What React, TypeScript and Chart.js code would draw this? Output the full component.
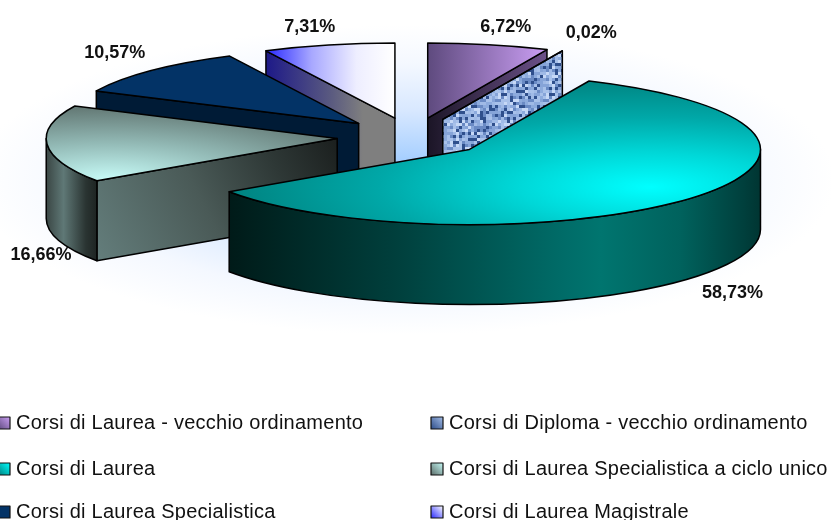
import React, { useEffect, useRef } from "react";
import { Chart, registerables } from "chart.js";

Chart.register(...registerables);

const categories = [
  "Corsi di Laurea - vecchio ordinamento",
  "Corsi di Diploma - vecchio ordinamento",
  "Corsi di Laurea",
  "Corsi di Laurea Specialistica a ciclo unico",
  "Corsi di Laurea Specialistica",
  "Corsi di Laurea Magistrale",
];
const shares = [6.72, 0.02, 58.73, 16.66, 10.57, 7.31];

// back-to-front order of the slices
const paintOrder = [0, 1, 5, 4, 3, 2];

const RADIUS = 291;
const SQUASH = 0.258;
const EXPLODE = 75;
const DEPTH = 80;
const LINE = 1.5;
const FONT = '"Liberation Sans", Arial, sans-serif';

type Stops = [number, string][];
const fillStops = (g: CanvasGradient, stops: Stops) => {
  stops.forEach(([o, c]) => g.addColorStop(o, c));
  return g;
};

function weave(ctx: CanvasRenderingContext2D) {
  const cell = 3;
  const n = 16;
  const raw = document.createElement("canvas");
  raw.width = raw.height = n * cell;
  const r = raw.getContext("2d")!;
  const tones = ["#2f4f8c", "#6a8ac4", "#8dabdd", "#a8c1ea", "#c6d8f6", "#86a4d8", "#a0bae6"];
  for (let y = 0; y < n; y++) {
    for (let x = 0; x < n; x++) {
      const h = Math.abs(Math.sin(x * 12.9898 + y * 78.233) * 43758.5453) % 1;
      r.fillStyle = tones[Math.floor(h * tones.length)];
      r.fillRect(x * cell, y * cell, cell, cell);
    }
  }
  const tile = document.createElement("canvas");
  tile.width = tile.height = n * cell;
  const t = tile.getContext("2d")!;
  t.filter = "blur(0.7px)";
  t.drawImage(raw, 0, 0);
  t.filter = "none";
  return ctx.createPattern(tile, "repeat")!;
}

// fill of the top face, in the squashed (pie) space; p = {x, y, R, a0, a1}
const faceFills: ((c: CanvasRenderingContext2D, p: any) => any)[] = [
  (c, p) =>
    fillStops(c.createLinearGradient(p.x, 0, p.x + p.R * 0.41, 0), [
      [0, "#5e4a7e"],
      [1, "#cb9ff4"],
    ]),
  () => "#8aa6da",
  (c, p) => {
    const bx = p.x + p.R * 0.62;
    const by = p.y + p.R * 0.5;
    return fillStops(c.createRadialGradient(bx, by, 0, bx, by, p.R * 1.5), [
      [0, "#00ffff"],
      [0.3, "#00d8d8"],
      [0.62, "#00a8a8"],
      [1, "#007f7c"],
    ]);
  },
  (c, p) => {
    const bx = p.x + Math.cos(p.a0) * p.R * 0.95;
    const by = p.y + Math.sin(p.a0) * p.R * 0.95;
    return fillStops(c.createRadialGradient(bx, by, 0, bx, by, p.R * 1.05), [
      [0, "#c6faf6"],
      [0.45, "#93bab6"],
      [1, "#5a6c68"],
    ]);
  },
  () => "#033366",
  (c, p) =>
    fillStops(c.createLinearGradient(p.x - p.R * 0.44, 0, p.x, 0), [
      [0, "#2a2aff"],
      [0.35, "#a8a8ff"],
      [0.7, "#eeeeff"],
      [1, "#ffffff"],
    ]),
];

// fill of the visible walls, in page space; p = {ax, ay, R}
const wallFills: ((c: CanvasRenderingContext2D, p: any) => any)[] = [
  (c, p) =>
    fillStops(c.createLinearGradient(p.ax, 0, p.ax + p.R * 0.41, 0), [
      [0, "#1b1526"],
      [1, "#6c5189"],
    ]),
  (c) => weave(c),
  (c, p) =>
    fillStops(c.createLinearGradient(p.ax - p.R * 0.83, 0, p.ax + p.R, 0), [
      [0, "#001a18"],
      [0.32, "#00403d"],
      [0.63, "#006c68"],
      [0.7, "#00756f"],
      [0.85, "#00625d"],
      [0.97, "#003f3c"],
      [1, "#003532"],
    ]),
  (c, p) =>
    fillStops(
      c.createLinearGradient(p.ax - p.R * 0.83, p.ay + 123, p.ax, p.ay),
      [
        [0, "#647e7c"],
        [0.45, "#4a5a57"],
        [0.75, "#2e3836"],
        [1, "#1b1f1e"],
      ]
    ),
  () => "#001b36",
  (c, p) =>
    fillStops(c.createLinearGradient(p.ax - p.R * 0.44, 0, p.ax, 0), [
      [0, "#1e1a88"],
      [0.5, "#5a5a80"],
      [0.75, "#7f7f7f"],
      [1, "#7f7f7f"],
    ]),
];

// the rim of the grey slice has its own shading
const greyRim = (c: CanvasRenderingContext2D, p: any) =>
  fillStops(c.createLinearGradient(p.ax - p.R, 0, p.ax - p.R * 0.83, 0), [
    [0, "#3a4644"],
    [0.35, "#5f7876"],
    [0.8, "#2a3432"],
    [1, "#1f2624"],
  ]);

// label offset from the slice's rim, in px
const labelShift: [number, number][] = [
  [17, -18],
  [29, -18],
  [40, 15],
  [-6, 31],
  [-37, -18],
  [-19, -18],
];

const swatchStops: Stops[] = [
  [[0, "#5e4a7e"], [1, "#cb9ff4"]],
  [[0, "#2c4c88"], [1, "#a3bce6"]],
  [[0, "#007f7c"], [1, "#00ffff"]],
  [[0, "#5a6c68"], [1, "#c6faf6"]],
  [[0, "#033366"], [1, "#033366"]],
  [[0, "#2a2aff"], [1, "#ffffff"]],
];
const legendOrder = [0, 1, 2, 3, 4, 5];
const legendRows = [423, 469, 512];
const legendCols = [16, 449];

const stroke = (ctx: CanvasRenderingContext2D) => {
  ctx.lineWidth = LINE;
  ctx.lineJoin = "round";
  ctx.strokeStyle = "#000";
  ctx.stroke();
};

const pie3d = {
  id: "pie3d",
  beforeDraw(chart: any) {
    const { ctx, width, height } = chart;
    ctx.save();
    ctx.fillStyle = "#fff";
    ctx.fillRect(0, 0, width, height);
    ctx.translate(405, 180);
    ctx.scale(1, 0.36);
    const g = ctx.createRadialGradient(0, 0, 0, 0, 0, 430);
    fillStops(g, [
      [0, "#90c2ff"],
      [0.18, "#aed3ff"],
      [0.45, "#d8e8ff"],
      [0.75, "#f4f8ff"],
      [1, "#ffffff"],
    ]);
    ctx.fillStyle = g;
    ctx.fillRect(-430, -430, 860, 860);
    ctx.restore();
  },
  beforeDatasetDraw(chart: any, args: any) {
    const { ctx } = chart;
    const arcs = args.meta.data;
    const ry = (R: number) => R * SQUASH;

    paintOrder.forEach((i) => {
      const arc = arcs[i];
      const { x, y, startAngle: a0, endAngle: a1, outerRadius: R } = arc;
      const mid = (a0 + a1) / 2;
      const ax = x + Math.cos(mid) * EXPLODE;
      const ay = y + Math.sin(mid) * EXPLODE * SQUASH;
      const rim = (a: number) => [ax + Math.cos(a) * R, ay + Math.sin(a) * ry(R)];

      const radialWall = (a: number) => {
        const [ox, oy] = rim(a);
        ctx.beginPath();
        ctx.moveTo(ax, ay);
        ctx.lineTo(ox, oy);
        ctx.lineTo(ox, oy + DEPTH);
        ctx.lineTo(ax, ay + DEPTH);
        ctx.closePath();
        ctx.fillStyle = wallFills[i](ctx, { ax, ay, R });
        ctx.fill();
        stroke(ctx);
      };
      if (Math.cos(a0) < 0) radialWall(a0);
      if (Math.cos(a1) > 0) radialWall(a1);

      const from = Math.max(a0, 0);
      const to = Math.min(a1, Math.PI);
      if (to > from) {
        ctx.beginPath();
        ctx.ellipse(ax, ay, R, ry(R), 0, from, to);
        ctx.ellipse(ax, ay + DEPTH, R, ry(R), 0, to, from, true);
        ctx.closePath();
        ctx.fillStyle = (i === 3 ? greyRim : wallFills[i])(ctx, { ax, ay, R });
        ctx.fill();
        stroke(ctx);
      }

      // top face: the library's own arc element, squashed
      ctx.save();
      ctx.translate(ax, ay);
      ctx.scale(1, SQUASH);
      ctx.translate(-x, -y);
      const base = arc.options;
      arc.options = {
        ...base,
        backgroundColor: faceFills[i](ctx, { x, y, R, a0, a1 }),
        borderWidth: 0,
      };
      arc.draw(ctx);
      arc.options = base;
      ctx.restore();

      ctx.beginPath();
      ctx.moveTo(ax, ay);
      ctx.ellipse(ax, ay, R, ry(R), 0, a0, a1);
      ctx.closePath();
      stroke(ctx);
    });

    // data labels
    ctx.font = `bold 18px ${FONT}`;
    ctx.fillStyle = "#111";
    ctx.textAlign = "center";
    ctx.textBaseline = "middle";
    arcs.forEach((arc: any, i: number) => {
      const mid = (arc.startAngle + arc.endAngle) / 2;
      const R = arc.outerRadius;
      const ax = arc.x + Math.cos(mid) * EXPLODE;
      const ay = arc.y + Math.sin(mid) * EXPLODE * SQUASH;
      const front = Math.sin(mid) > 0;
      const px = ax + Math.cos(mid) * R + labelShift[i][0];
      const py = ay + Math.sin(mid) * ry(R) + (front ? DEPTH : 0) + labelShift[i][1];
      ctx.fillText(`${shares[i].toFixed(2).replace(".", ",")}%`, px, py);
    });

    // legend
    ctx.textAlign = "left";
    ctx.font = `20px ${FONT}`;
    (ctx as any).letterSpacing = "0.25px";
    legendOrder.forEach((i, n) => {
      const col = legendCols[n % 2];
      const row = legendRows[Math.floor(n / 2)];
      const sx = col - 18;
      const sy = row - 6;
      const g = ctx.createLinearGradient(sx, sy + 12, sx + 12, sy);
      fillStops(g, swatchStops[i]);
      ctx.fillStyle = g;
      ctx.fillRect(sx, sy, 12, 12);
      ctx.lineWidth = 1.2;
      ctx.strokeStyle = "#111";
      ctx.strokeRect(sx, sy, 12, 12);
      ctx.fillStyle = "#111";
      ctx.fillText(categories[i], col, row);
    });
    (ctx as any).letterSpacing = "0px";
    return false;
  },
};

export default function App() {
  const ref = useRef<HTMLCanvasElement>(null);
  useEffect(() => {
    document.body.style.margin = "0";
    const chart = new Chart(ref.current!, {
      type: "pie",
      data: {
        labels: categories,
        datasets: [{ data: shares, borderWidth: 0, backgroundColor: "#888" }],
      },
      options: {
        responsive: false,
        animation: false,
        radius: RADIUS,
        layout: { padding: { right: 7, bottom: 246 } },
        plugins: { legend: { display: false }, tooltip: { enabled: false } },
      } as any,
      plugins: [pie3d as any],
    });
    return () => chart.destroy();
  }, []);
  return <canvas ref={ref} width={831} height={520} style={{ display: "block" }} />;
}
